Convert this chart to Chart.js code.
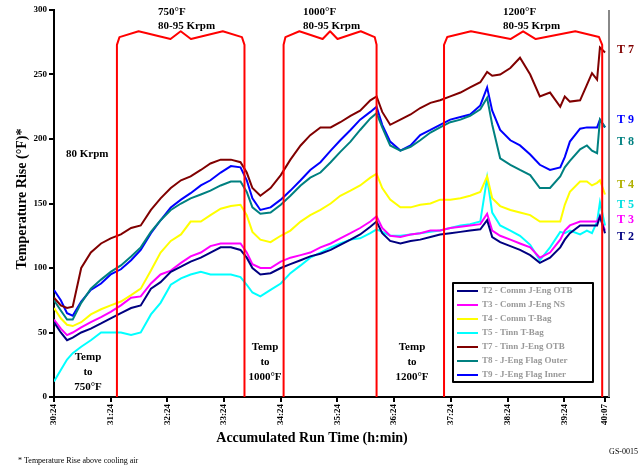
<!DOCTYPE html>
<html>
<head>
<meta charset="utf-8">
<script src="https://cdn.jsdelivr.net/npm/chart.js@4.4.1/dist/chart.umd.min.js"></script>
<style>
  html, body { margin: 0; padding: 0; background: #fff; }
  #wrap { width: 644px; height: 465px; position: relative; }
</style>
</head>
<body>
<div id="wrap"><canvas id="c"></canvas></div>
<script>
'use strict';

// run time, in tick intervals from the first tick
const runTime = [0, 0.12, 0.23, 0.33, 0.48, 0.65, 0.83, 1.00, 1.18, 1.36, 1.53, 1.71, 1.88, 2.06, 2.24, 2.41,
  2.59, 2.76, 2.94, 3.12, 3.29, 3.40, 3.50, 3.64, 3.82, 4.00, 4.17, 4.35, 4.52, 4.70, 4.88, 5.05, 5.23, 5.40,
  5.58, 5.69, 5.79, 5.93, 6.11, 6.29, 6.46, 6.64, 6.81, 6.99, 7.17, 7.34, 7.52, 7.64, 7.73, 7.87, 8.05, 8.22,
  8.40, 8.57, 8.75, 8.93, 9.01, 9.10, 9.28, 9.40, 9.49, 9.58, 9.63, 9.72];

const t2 = [58, 50, 44, 46, 50, 53, 57, 61, 65, 69, 71, 84, 89, 97, 101, 105, 108, 112, 116, 116, 114, 108, 100, 95,
  96, 100, 103, 106, 109, 111, 114, 118, 122, 126, 132, 136, 127, 121, 119, 121, 122, 124, 126, 127, 128, 129, 130,
  137, 124, 120, 117, 114, 110, 104, 108, 116, 122, 127, 133, 133, 133, 133, 140, 127];
const t3 = [60, 53, 48, 50, 54, 58, 62, 66, 71, 77, 78, 88, 95, 98, 104, 109, 112, 117, 119, 119, 119, 112, 103, 100,
  100, 105, 108, 110, 112, 116, 119, 123, 127, 131, 136, 140, 131, 125, 124, 126, 127, 129, 129, 131, 132, 133, 134,
  142, 129, 125, 122, 119, 116, 108, 112, 122, 129, 133, 136, 136, 136, 136, 140, 129];
const t4 = [69, 61, 56, 55, 58, 64, 68, 71, 74, 79, 84, 98, 112, 121, 126, 136, 136, 141, 146, 148, 149, 141, 128, 122,
  120, 125, 129, 136, 141, 145, 150, 156, 160, 164, 170, 173, 162, 153, 147, 147, 149, 150, 153, 153, 154, 156, 159,
  171, 154, 148, 145, 143, 141, 136, 136, 136, 149, 159, 167, 167, 164, 166, 168, 157];
const t5 = [12, 21, 29, 34, 39, 44, 50, 50, 50, 48, 50, 64, 73, 87, 92, 95, 97, 95, 95, 95, 93, 87, 81, 78,
  83, 88, 96, 102, 108, 112, 116, 119, 122, 123, 127, 130, 128, 125, 125, 126, 127, 128, 129, 131, 133, 134, 136,
  170, 143, 133, 129, 125, 118, 106, 116, 128, 127, 129, 126, 129, 127, 136, 151, 133];
const t7 = [77, 71, 69, 70, 100, 112, 119, 123, 126, 131, 133, 145, 154, 162, 168, 171, 176, 181, 184, 184, 182, 174, 162, 156,
  162, 172, 184, 195, 203, 209, 209, 213, 218, 222, 230, 233, 221, 211, 215, 219, 224, 228, 230, 233, 236, 240, 244,
  252, 249, 250, 255, 263, 250, 233, 236, 225, 233, 229, 230, 242, 251, 246, 271, 267];
const t8 = [75, 67, 60, 60, 73, 84, 91, 97, 102, 109, 116, 128, 137, 145, 150, 154, 157, 160, 164, 167, 167, 159, 147, 142,
  143, 149, 156, 164, 170, 174, 182, 190, 198, 207, 216, 220, 209, 195, 191, 194, 199, 205, 209, 213, 215, 218, 223,
  232, 211, 185, 180, 176, 172, 162, 162, 171, 178, 183, 192, 195, 191, 189, 215, 209];
const t9 = [83, 75, 65, 63, 74, 83, 88, 95, 99, 106, 114, 127, 137, 147, 153, 158, 164, 168, 174, 179, 178, 168, 154, 145,
  147, 153, 160, 168, 176, 182, 191, 199, 207, 215, 221, 225, 211, 198, 191, 195, 203, 207, 211, 215, 217, 219, 226,
  240, 222, 207, 199, 195, 188, 180, 176, 178, 186, 198, 208, 209, 209, 209, 215, 209];

const seriesNames = ['T2 - Comm J-Eng OTB', 'T3 - Comm J-Eng NS', 'T4 - Comm T-Bag', 'T5 - Tinn T-Bag',
  'T7 - Tinn J-Eng OTB', 'T8 - J-Eng Flag Outer', 'T9 - J-Eng Flag Inner'];
const seriesValues = [t2, t3, t4, t5, t7, t8, t9];
const seriesColors = ['#000080', '#ff00ff', '#ffff00', '#00ffff', '#800000', '#008080', '#0000ff'];

const tickPos = [0, 1, 2, 3, 4, 5, 6, 7, 8, 9, 9.72];
const tickLabels = ['30:24', '31:24', '32:24', '33:24', '34:24', '35:24', '36:24', '37:24', '38:24', '39:24', '40:07'];
const yTicks = [0, 50, 100, 150, 200, 250, 300];

// red phase lines, x in run time units
const phaseX = [1.11, 3.36, 4.05, 5.69, 6.88, 9.67];

const SERIF = '"Liberation Serif", "DejaVu Serif", serif';

const datasets = seriesNames.map((name, i) => ({
  label: name,
  data: runTime.map((x, j) => ({ x, y: seriesValues[i][j] })),
  borderColor: seriesColors[i],
  backgroundColor: seriesColors[i],
  borderWidth: 2,
  pointRadius: 0,
  tension: 0,
}));

function brace(ctx, xs, ys, a, b) {
  const w = b - a;
  const pts = [[a, 0], [a, 273], [a + 0.02 * w, 279], [a + 0.17 * w, 283.5], [a + 0.42 * w, 277.5], [a + 0.5 * w, 283.5],
    [a + 0.58 * w, 277.5], [a + 0.83 * w, 283.5], [b - 0.02 * w, 279], [b, 273], [b, 0]];
  ctx.beginPath();
  pts.forEach((p, i) => {
    const px = xs.getPixelForValue(p[0]);
    const py = ys.getPixelForValue(p[1]);
    if (i === 0) ctx.moveTo(px, py); else ctx.lineTo(px, py);
  });
  ctx.stroke();
}

const annotations = {
  id: 'annotations',
  afterDatasetsDraw(chart) {
    const { ctx, chartArea: ca } = chart;
    const xs = chart.scales.x, ys = chart.scales.y;
    ctx.save();
    // gray right border
    ctx.strokeStyle = '#888';
    ctx.lineWidth = 2;
    ctx.beginPath();
    ctx.moveTo(ca.right, ca.top);
    ctx.lineTo(ca.right, ca.bottom);
    ctx.stroke();
    // red phase lines with braces
    ctx.strokeStyle = '#ff0000';
    ctx.lineWidth = 2;
    ctx.lineJoin = 'round';
    brace(ctx, xs, ys, phaseX[0], phaseX[1]);
    brace(ctx, xs, ys, phaseX[2], phaseX[3]);
    brace(ctx, xs, ys, phaseX[4], phaseX[5]);

    ctx.fillStyle = '#000';
    ctx.textBaseline = 'middle';
    ctx.font = 'bold 11px ' + SERIF;
    ctx.textAlign = 'left';
    [[158, '750°F'], [303, '1000°F'], [503, '1200°F']].forEach(([x, t]) => {
      ctx.fillText(t, x, 12);
      ctx.fillText('80-95 Krpm', x, 26);
    });
    ctx.fillText('80 Krpm', 66, 154);
    ctx.textAlign = 'center';
    [[88, 357, '750°F'], [265, 347, '1000°F'], [412, 347, '1200°F']].forEach(([x, y, t]) => {
      ctx.fillText('Temp', x, y);
      ctx.fillText('to', x, y + 15);
      ctx.fillText(t, x, y + 30);
    });

    // end labels
    ctx.font = 'bold 12px ' + SERIF;
    ctx.textAlign = 'left';
    [['T 7', 50, '#800000'], ['T 9', 120, '#0000ff'], ['T 8', 142, '#008080'], ['T 4', 185, '#b0b000'],
      ['T 5', 205, '#00e0e0'], ['T 3', 220, '#ff00ff'], ['T 2', 237, '#000080']].forEach(([t, y, c]) => {
      ctx.fillStyle = c;
      ctx.fillText(t, 617, y);
    });

    // legend box
    const lx = 453, ly = 283, lw = 140, lh = 99;
    ctx.fillStyle = '#fff';
    ctx.fillRect(lx, ly, lw, lh);
    ctx.strokeStyle = '#000';
    ctx.lineWidth = 2;
    ctx.strokeRect(lx, ly, lw, lh);
    ctx.font = 'bold 9px ' + SERIF;
    chart.data.datasets.forEach((ds, i) => {
      const y = ly + 8 + i * 14;
      ctx.strokeStyle = ds.borderColor;
      ctx.lineWidth = 2;
      ctx.beginPath();
      ctx.moveTo(lx + 4, y);
      ctx.lineTo(lx + 25, y);
      ctx.stroke();
      ctx.fillStyle = '#999';
      ctx.fillText(ds.label, lx + 29, y);
    });

    // axis titles and notes
    ctx.fillStyle = '#000';
    ctx.font = 'bold 14px ' + SERIF;
    ctx.textAlign = 'center';
    ctx.fillText('Accumulated Run Time (h:min)', 312, 438);
    ctx.save();
    ctx.translate(22, 199);
    ctx.rotate(-Math.PI / 2);
    ctx.fillText('Temperature Rise (°F)*', 0, 0);
    ctx.restore();
    ctx.font = '8px ' + SERIF;
    ctx.textAlign = 'left';
    ctx.fillText('* Temperature Rise above cooling air', 18, 461);
    ctx.textAlign = 'right';
    ctx.fillText('GS-0015', 638, 452);
    ctx.restore();
  },
};

new Chart(document.getElementById('c'), {
  type: 'line',
  data: { datasets },
  options: {
    responsive: true,
    maintainAspectRatio: false,
    animation: false,
    layout: { padding: { top: 10, right: 35, left: 0, bottom: 0 } },
    plugins: { legend: { display: false }, tooltip: { enabled: false } },
    scales: {
      x: {
        type: 'linear',
        min: 0,
        max: 9.79,
        afterBuildTicks: (s) => { s.ticks = tickPos.map((v) => ({ value: v })); },
        afterFit: (s) => { s.height = 68; },
        border: { color: '#000', width: 2 },
        grid: { drawOnChartArea: false, drawTicks: true, tickLength: 5, color: '#000', lineWidth: 2 },
        ticks: {
          minRotation: 90, maxRotation: 90, padding: 2, color: '#000',
          font: { family: SERIF, size: 9, weight: 'bold' },
          callback: (v, i) => tickLabels[i],
        },
      },
      y: {
        min: 0,
        max: 300,
        afterBuildTicks: (s) => { s.ticks = yTicks.map((v) => ({ value: v })); },
        afterFit: (s) => { s.width = 54; },
        border: { color: '#000', width: 2 },
        grid: { drawOnChartArea: false, drawTicks: true, tickLength: 5, color: '#000', lineWidth: 2 },
        ticks: { padding: 2, color: '#000', font: { family: SERIF, size: 9, weight: 'bold' } },
      },
    },
  },
  plugins: [annotations],
});
</script>
</body>
</html>
